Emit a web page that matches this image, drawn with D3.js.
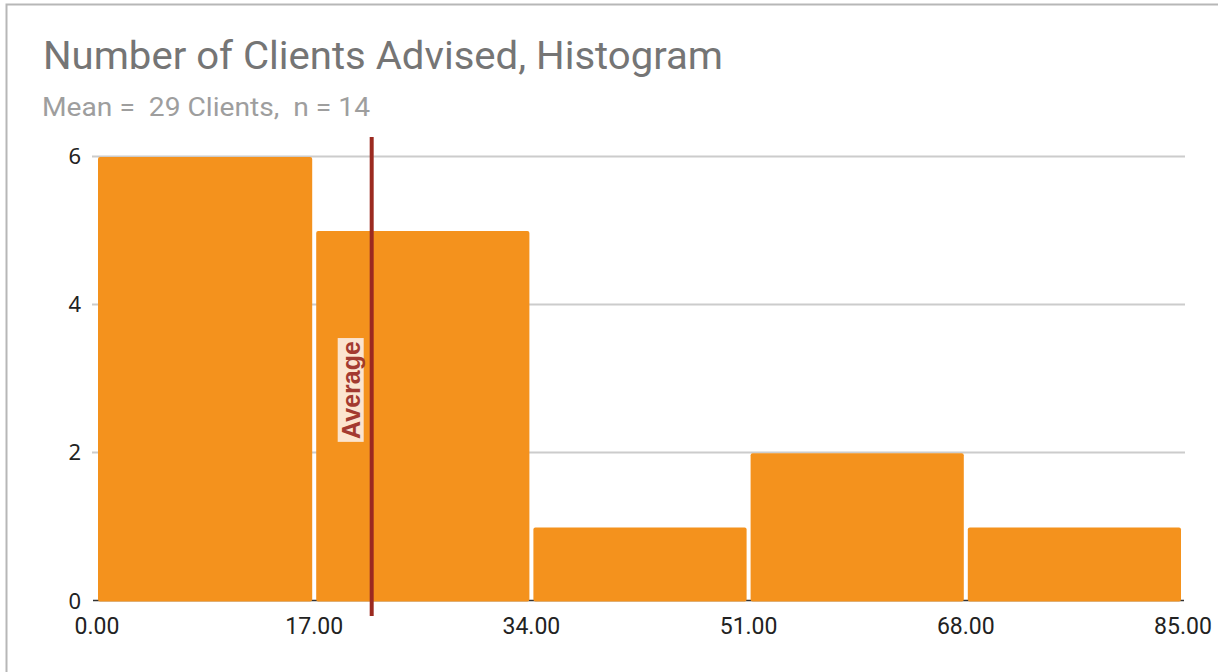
<!DOCTYPE html>
<html>
<head>
<meta charset="utf-8">
<script src="https://cdn.jsdelivr.net/npm/d3@7"></script>
<style>
  html, body { margin: 0; padding: 0; background: #fff; }
  svg { display: block; }
</style>
</head>
<body>
<svg id="chart" width="1218" height="672"></svg>
<script>
// ---- data ----
const binEdges = [0, 17, 34, 51, 68, 85];
const binCounts = [6, 5, 1, 2, 1];
const yTicks = [0, 2, 4, 6];
const xTickLabels = ["0.00", "17.00", "34.00", "51.00", "68.00", "85.00"];
const averageValue = [21.5];
const averageLabel = "Average";
const titleText = "Number of Clients Advised, Histogram";
const subtitleText = "Mean =  29 Clients,  n = 14";

const svg = d3.select("#chart");
const W = 1218, H = 672;

// frame
svg.append("rect").attr("x", 6.5).attr("y", 4.5).attr("width", W + 10).attr("height", H + 10)
  .attr("fill", "#fff").attr("stroke", "#b7b7b7").attr("stroke-width", 2);

// title
svg.append("text").attr("x", 43).attr("y", 69)
  .attr("font-family", "Roboto").attr("font-size", 38).attr("fill", "#757575")
  .attr("textLength", 680).attr("lengthAdjust", "spacingAndGlyphs")
  .text(titleText);
svg.append("text").attr("x", 42).attr("y", 116)
  .attr("font-family", "Roboto").attr("font-size", 26).attr("fill", "#9e9e9e")
  .attr("xml:space", "preserve")
  .attr("textLength", 328).attr("lengthAdjust", "spacingAndGlyphs")
  .text(subtitleText);

// scales
const x = d3.scaleLinear().domain([0, 85]).range([97, 1183]);
const y = d3.scaleLinear().domain([0, 6]).range([600.5, 156]);

// gridlines
svg.append("g").selectAll("line").data(yTicks.filter(d => d > 0)).join("line")
  .attr("x1", 92).attr("x2", 1185)
  .attr("y1", d => Math.round(y(d)) + 0.5).attr("y2", d => Math.round(y(d)) + 0.5)
  .attr("stroke", "#cccccc").attr("stroke-width", 2);

// baseline
svg.append("line").attr("x1", 93).attr("x2", 1184).attr("y1", 600.5).attr("y2", 600.5)
  .attr("stroke", "#333").attr("stroke-width", 1.5);

// bars
const bins = binCounts.map((c, i) => ({ x0: binEdges[i], x1: binEdges[i + 1], count: c }));
svg.append("g").selectAll("rect").data(bins).join("rect")
  .attr("x", (d, i) => x(d.x0) + (i === 0 ? 1 : 2))
  .attr("width", (d, i) => x(d.x1) - x(d.x0) - (i === 0 ? 3 : 4))
  .attr("y", d => y(d.count) + 1)
  .attr("height", d => y(0) - y(d.count))
  .attr("rx", 2)
  .attr("fill", "#f4921d");

// y tick labels
svg.append("g").selectAll("text").data(yTicks).join("text")
  .attr("x", 81).attr("y", d => y(d) + 8)
  .attr("text-anchor", "end")
  .attr("font-family", "Noto Sans").attr("font-size", 22).attr("fill", "#222")
  .text(d => d);

// x tick labels
svg.append("g").selectAll("text").data(binEdges).join("text")
  .attr("x", d => x(d)).attr("y", 634)
  .attr("text-anchor", "middle")
  .attr("font-family", "Roboto").attr("font-size", 23).attr("fill", "#222")
  .text((d, i) => xTickLabels[i]);

// average line
const avgG = svg.append("g");
avgG.selectAll("line").data(averageValue).join("line")
  .attr("x1", d => x(d)).attr("x2", d => x(d))
  .attr("y1", 137).attr("y2", 616)
  .attr("stroke", "#9b2a20").attr("stroke-width", 4);

// average label
const lbl = avgG.append("g").attr("transform", `translate(${x(averageValue[0]) - 21},390) rotate(-90)`);
const lt = lbl.append("text").attr("x", 0).attr("y", 0)
  .attr("text-anchor", "middle").attr("dominant-baseline", "central")
  .attr("font-family", "Liberation Sans").attr("font-weight", "bold")
  .attr("font-size", 25).attr("fill", "#a33a30")
  .text(averageLabel);
const bb = lt.node().getBBox();
lbl.insert("rect", "text").attr("x", bb.x - 3).attr("y", bb.y + 1)
  .attr("width", bb.width + 6).attr("height", bb.height - 2)
  .attr("fill", "#fbe4cf");
</script>
</body>
</html>
